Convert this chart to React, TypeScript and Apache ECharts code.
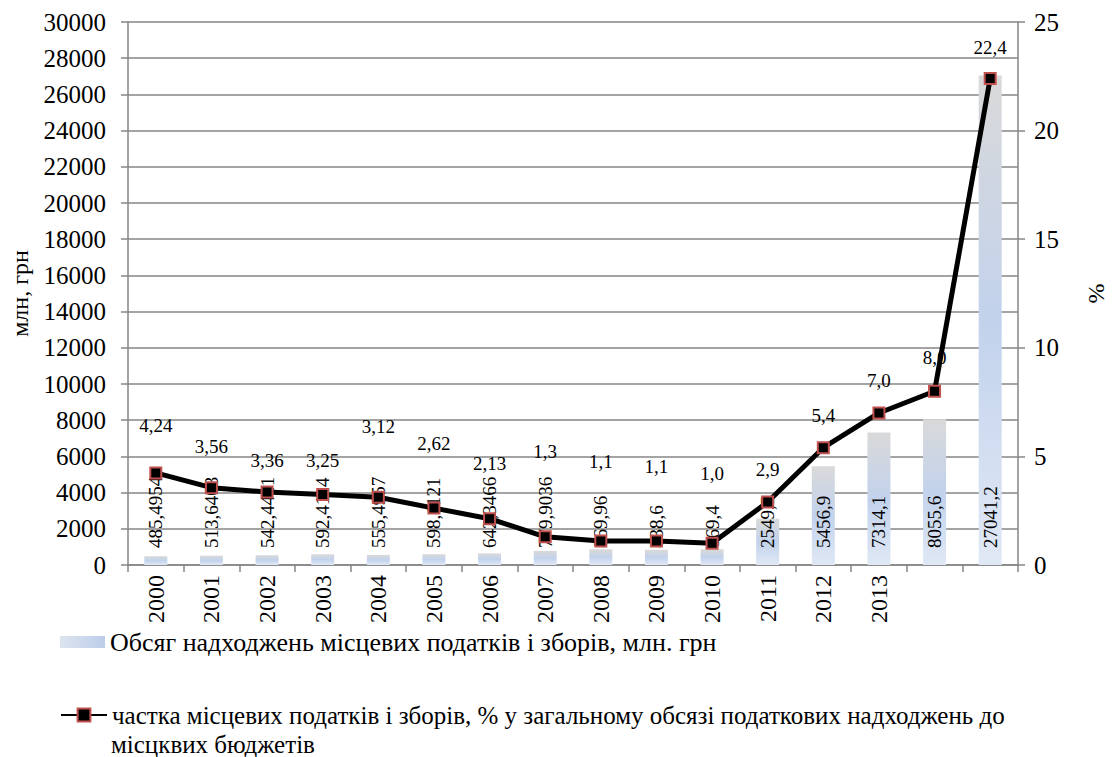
import React, { useEffect, useRef } from "react";
import * as echarts from "echarts";

const categories = ["2000","2001","2002","2003","2004","2005","2006","2007","2008","2009","2010","2011","2012","2013","",""];
const revenue = [485.4954, 513.6403, 542.4441, 592.4114, 555.4957, 598.1121, 642.3466, 779.9036, 869.96, 838.6, 869.4, 2549.5, 5456.9, 7314.1, 8055.6, 27041.2];
const share = [4.24, 3.56, 3.36, 3.25, 3.12, 2.62, 2.13, 1.3, 1.1, 1.1, 1.0, 2.9, 5.4, 7.0, 8.0, 22.4];
const leftTicks = { min: 0, max: 30000, interval: 2000 };
const rightTicks = { min: 0, max: 25, interval: 5 };
const barName = "Обсяг надходжень місцевих податків і зборів, млн. грн";
const lineNameLine1 = "частка місцевих податків і зборів, % у загальному обсязі податкових надходжень до";
const lineNameLine2 = "місцквих бюджетів";
const lineName = lineNameLine1 + " " + lineNameLine2;
// label lift above each line point (layout only)
const lineLabelDistance = [31, 25, 16, 18, 55, 49, 39, 69, 64, 59, 54, 17, 16, 16, 18, 15];

const FONT = "Liberation Serif";

const fmt = (v: number) => {
  const s = Number.isInteger(v) ? v.toFixed(1) : String(v);
  return s.replace(".", ",");
};

export default function App() {
  const ref = useRef<HTMLDivElement>(null);
  useEffect(() => {
    if (!ref.current) return;
    const chart = echarts.init(ref.current, undefined, { renderer: "svg" });
    const barGrad = new echarts.graphic.LinearGradient(0, 0, 0, 1, [
      { offset: 0, color: "#d9d9d9" },
      { offset: 0.5, color: "#c2d2ec" },
      { offset: 1, color: "#e0e8f5" },
    ]);
    const legendGrad = new echarts.graphic.LinearGradient(0, 0, 1, 0, [
      { offset: 0, color: "#dde4ef" },
      { offset: 1, color: "#bccdea" },
    ]);
    chart.setOption({
      animation: false,
      textStyle: { fontFamily: FONT, color: "#000" },
      grid: { left: 128, right: 90, top: 22, bottom: 192, containLabel: false },
      legend: [
        {
          data: [{ name: barName, itemStyle: { color: legendGrad } }],
          left: 55,
          top: 624,
          orient: "vertical",
          itemWidth: 45,
          itemHeight: 12,
          itemGap: 6,
          icon: "rect",
          textStyle: { fontFamily: FONT, fontSize: 26, color: "#000" },
          selectedMode: false,
        },
        {
          data: [lineName],
          left: 55,
          top: 696,
          orient: "vertical",
          itemWidth: 46,
          itemHeight: 16,
          itemGap: 6,
          formatter: () => lineNameLine1,
          textStyle: { fontFamily: FONT, fontSize: 25, color: "#000", lineHeight: 28 },
          selectedMode: false,
        },
      ],
      graphic: [
        {
          type: "text",
          left: 111,
          top: 731,
          style: { text: lineNameLine2, font: "25px Liberation Serif", fill: "#000", lineHeight: 26 },
        },
      ],
      xAxis: {
        type: "category",
        data: categories,
        axisLine: { lineStyle: { color: "#868686", width: 1.5 } },
        axisTick: { show: true, length: 7, lineStyle: { color: "#868686", width: 1.5 } },
        axisLabel: { rotate: 90, fontSize: 24, color: "#000", fontFamily: FONT, margin: 10, interval: 0 },
      },
      yAxis: [
        {
          type: "value",
          ...leftTicks,
          name: "млн, грн",
          nameLocation: "middle",
          nameGap: 96,
          nameRotate: 90,
          nameTextStyle: { fontSize: 24, fontFamily: FONT, color: "#000" },
          axisLine: { show: true, lineStyle: { color: "#868686", width: 1.5 } },
          axisTick: { show: true, length: 7, lineStyle: { color: "#868686", width: 1.5 } },
          axisLabel: { fontSize: 25, color: "#000", fontFamily: FONT, margin: 22, formatter: (v: number) => String(v) },
          splitLine: { show: true, lineStyle: { color: "#868686", width: 1.5 } },
        },
        {
          type: "value",
          ...rightTicks,
          name: "%",
          nameLocation: "middle",
          nameGap: 66,
          nameRotate: 90,
          nameTextStyle: { fontSize: 24, fontFamily: FONT, color: "#000" },
          axisLine: { show: true, lineStyle: { color: "#868686", width: 1.5 } },
          axisTick: { show: true, length: 7, lineStyle: { color: "#868686", width: 1.5 } },
          axisLabel: { fontSize: 25, color: "#000", fontFamily: FONT, margin: 16, formatter: (v: number) => String(v) },
          splitLine: { show: false },
        },
      ],
      series: [
        {
          name: barName,
          type: "bar",
          yAxisIndex: 0,
          data: revenue,
          barWidth: 23,
          itemStyle: { color: barGrad },
          label: {
            show: true,
            position: "insideBottom",
            rotate: 90,
            align: "left",
            verticalAlign: "middle",
            distance: 17,
            fontSize: 19,
            fontFamily: FONT,
            color: "#000",
            formatter: (p: any) => String(p.value).replace(".", ","),
          },
          z: 2,
        },
        {
          name: lineName,
          type: "line",
          yAxisIndex: 1,
          data: share.map((v, i) => ({
            value: v,
            label: { distance: lineLabelDistance[i] },
          })),
          lineStyle: { color: "#000", width: 5 },
          itemStyle: { color: "#000", borderColor: "#c0504d", borderWidth: 2 },
          symbol: "rect",
          symbolSize: 11,
          label: {
            show: true,
            position: "top",
            fontSize: 19,
            fontFamily: FONT,
            color: "#000",
            formatter: (p: any) => fmt(p.value),
          },
          z: 3,
        },
      ],
    });
    return () => chart.dispose();
  }, []);
  return <div ref={ref} style={{ width: 1116, height: 757, position: "absolute", left: 0, top: 0, background: "#fff" }} />;
}
